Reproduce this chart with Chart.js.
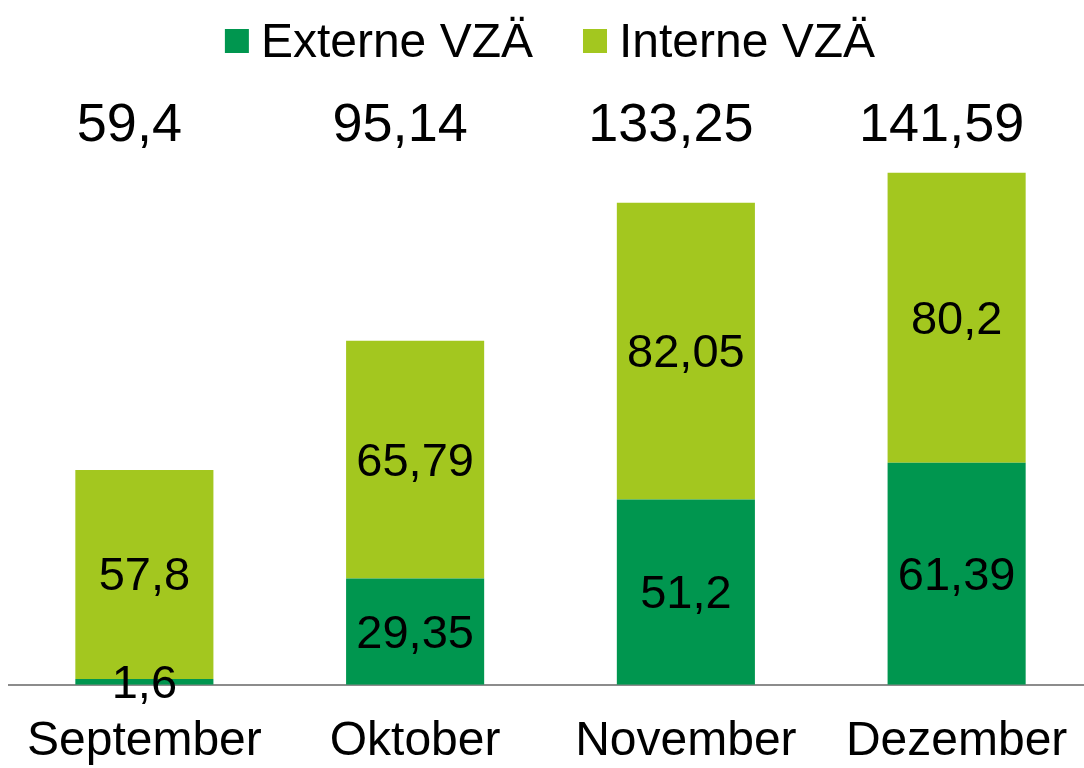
<!DOCTYPE html>
<html lang="de">
<head>
<meta charset="utf-8">
<title>VZÄ je Monat</title>
<script src="https://cdn.jsdelivr.net/npm/chart.js@4/dist/chart.umd.min.js"></script>
<style>
  html, body {
    margin: 0;
    padding: 0;
    background: #ffffff;
    overflow: hidden;
  }
  #vzaChart {
    display: block;
  }
</style>
</head>
<body>
<canvas id="vzaChart" width="1092" height="798"></canvas>
<script>
const months = ["September", "Oktober", "November", "Dezember"];
const externe = [1.6, 29.35, 51.2, 61.39];
const interne = [57.8, 65.79, 82.05, 80.2];
const totals = [59.4, 95.14, 133.25, 141.59];

const FONT = "'Liberation Sans', Arial, sans-serif";
const DARK_GREEN = "#00964f";
const LIGHT_GREEN = "#a3c71f";

// german decimal comma
function fmt(v) {
  return String(v).replace(".", ",");
}

// legend drawn by hand, the built in one can't space the items like this
const topLegend = {
  id: "topLegend",
  afterDraw(chart) {
    const ctx = chart.ctx;
    const sets = chart.data.datasets;
    const box = 24;
    const gap = 12;
    const itemGap = 50;
    ctx.save();
    ctx.font = "48px " + FONT;
    const widths = sets.map((ds) => box + gap + ctx.measureText(ds.label).width);
    const total = widths.reduce((a, b) => a + b, 0) + itemGap * (sets.length - 1);
    let x = chart.width / 2 - total / 2 + 4;
    sets.forEach((ds, i) => {
      ctx.fillStyle = ds.backgroundColor;
      ctx.fillRect(x, 29, box, box);
      ctx.fillStyle = "#000";
      ctx.textBaseline = "alphabetic";
      ctx.textAlign = "left";
      ctx.fillText(ds.label, x + box + gap, 57);
      x += widths[i] + itemGap;
    });
    ctx.restore();
  },
};

// values inside the segments and the sums above each column
const barLabels = {
  id: "barLabels",
  afterDatasetsDraw(chart) {
    const ctx = chart.ctx;
    ctx.save();
    ctx.fillStyle = "#000";
    ctx.textAlign = "center";
    ctx.textBaseline = "middle";
    ctx.font = "47px " + FONT;
    chart.data.datasets.forEach((ds, i) => {
      chart.getDatasetMeta(i).data.forEach((bar, j) => {
        ctx.fillText(fmt(ds.data[j]), bar.x, (bar.y + bar.base) / 2 + 3);
      });
    });
    // sums sit a bit left of the column centre
    ctx.font = "54px " + FONT;
    const firstMeta = chart.getDatasetMeta(0);
    totals.forEach((t, j) => {
      ctx.fillText(fmt(t), firstMeta.data[j].x - 15, chart.chartArea.top + 34);
    });
    ctx.restore();
  },
};

const ctx = document.getElementById("vzaChart").getContext("2d");
new Chart(ctx, {
  type: "bar",
  data: {
    labels: months,
    datasets: [
      {
        label: "Externe VZÄ",
        data: externe,
        backgroundColor: DARK_GREEN,
        barPercentage: 0.51,
        categoryPercentage: 1,
      },
      {
        label: "Interne VZÄ",
        data: interne,
        backgroundColor: LIGHT_GREEN,
        barPercentage: 0.51,
        categoryPercentage: 1,
      },
    ],
  },
  options: {
    responsive: false,
    animation: false,
    layout: {
      padding: { top: 92, left: 9, right: 0, bottom: 0 },
    },
    plugins: {
      legend: { display: false },
      tooltip: { enabled: false },
    },
    scales: {
      x: {
        stacked: true,
        grid: { display: false, drawTicks: false, tickLength: 0 },
        border: { display: true, color: "#8c8c8c", width: 2 },
        ticks: {
          color: "#000",
          padding: 0,
          font: { family: FONT, size: 48, lineHeight: 2.36 },
        },
      },
      y: {
        stacked: true,
        display: false,
        min: 0,
        max: 163.9,
      },
    },
  },
  plugins: [topLegend, barLabels],
});
</script>
</body>
</html>
